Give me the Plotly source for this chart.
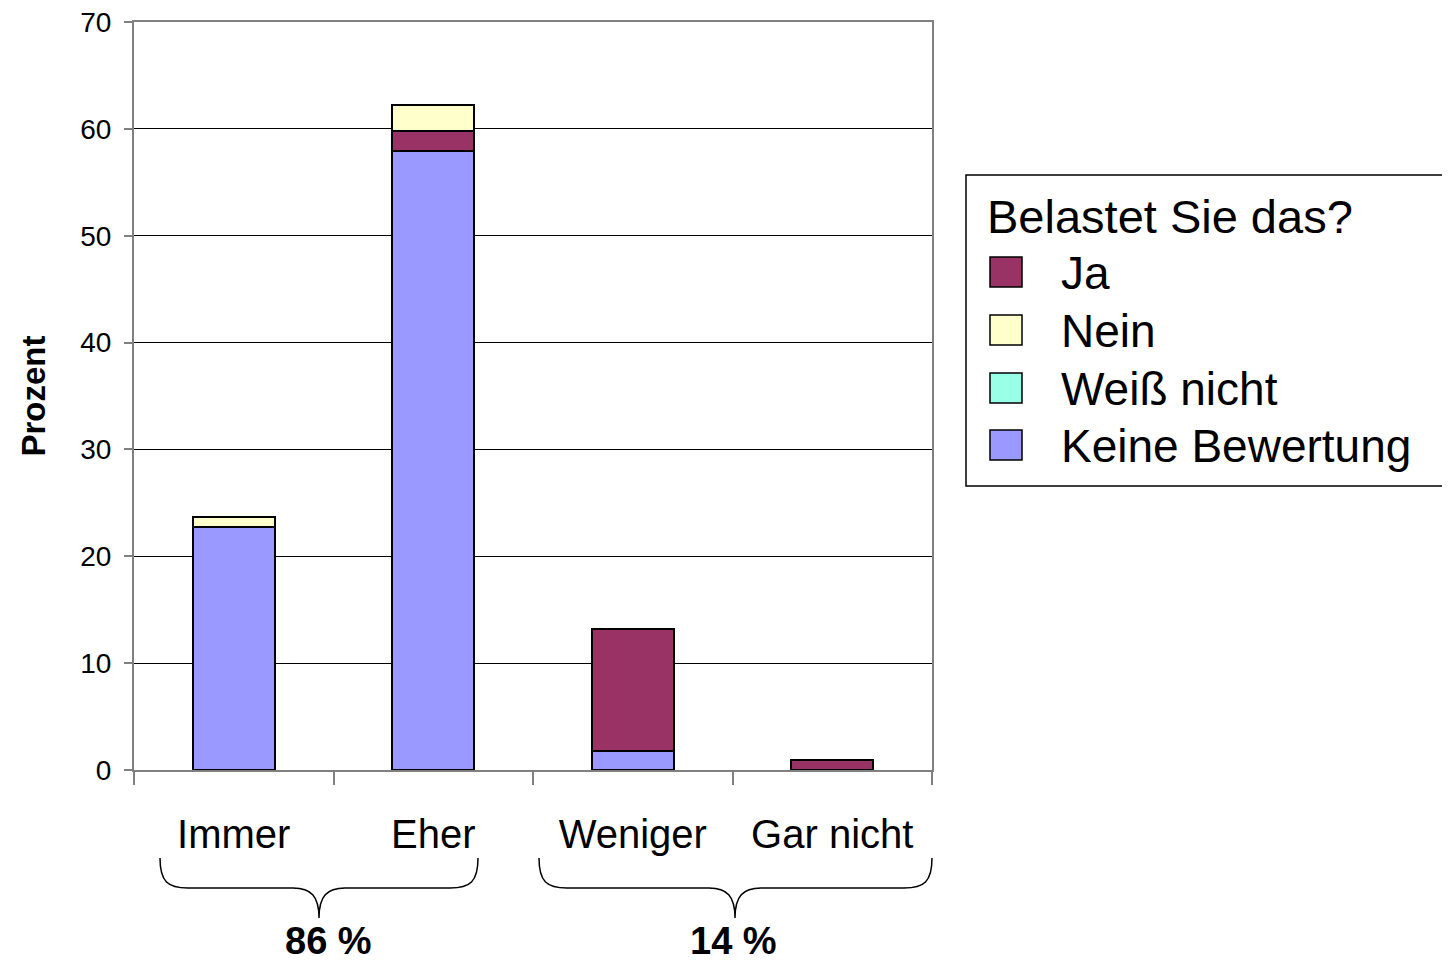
import plotly.graph_objects as go

categories = ["Immer", "Eher", "Weniger", "Gar nicht"]
keine_bewertung = [22.7, 57.9, 1.8, 0.0]
ja = [0.0, 1.9, 11.4, 0.9]
nein = [1.0, 2.4, 0.0, 0.0]
weiss_nicht = [0.0, 0.0, 0.0, 0.0]

series_names = ["Ja", "Nein", "Weiß nicht", "Keine Bewertung"]
series_colors = ["#993366", "#FFFFCC", "#99FFE6", "#9999FF"]
legend_title = "Belastet Sie das?"
group_labels = ["86 %", "14 %"]

FONT = "Liberation Sans, Arial, sans-serif"

OFF = 8  # page body margin
W, H = 1450 - OFF, 965 - OFF
# plot area in page pixels
L, R, T, B = 134, 932, 22, 770


def px(x):
    return (x - L) / (R - L)


def py(y):
    return (B - y) / (B - T)


fig = go.Figure()
stack = [("Keine Bewertung", keine_bewertung), ("Ja", ja), ("Nein", nein), ("Weiß nicht", weiss_nicht)]
for name, vals in stack:
    col = series_colors[series_names.index(name)]
    fig.add_trace(go.Bar(
        x=categories, y=vals, name=name,
        marker=dict(color=col, line=dict(color="black", width=2)),
        width=0.41, showlegend=False,
    ))

shapes = []
annotations = []


def brace(x1, x2, xm, ytop=858, ymid=888, ytip=918):
    pts = [
        f"M {px(x1)},{py(ytop)}",
        f"C {px(x1)},{py(ymid - 6)} {px(x1 + 8)},{py(ymid)} {px(x1 + 28)},{py(ymid)}",
        f"L {px(xm - 26)},{py(ymid)}",
        f"C {px(xm - 8)},{py(ymid)} {px(xm)},{py(ymid + 8)} {px(xm)},{py(ytip)}",
        f"C {px(xm)},{py(ymid + 8)} {px(xm + 8)},{py(ymid)} {px(xm + 26)},{py(ymid)}",
        f"L {px(x2 - 28)},{py(ymid)}",
        f"C {px(x2 - 8)},{py(ymid)} {px(x2)},{py(ymid - 6)} {px(x2)},{py(ytop)}",
    ]
    return dict(type="path", xref="paper", yref="paper", path=" ".join(pts),
                line=dict(color="black", width=1.5))


shapes.append(brace(160, 478, 319))
shapes.append(brace(539, 932, 735))

for xc, lab in zip([328, 733], group_labels):
    annotations.append(dict(x=px(xc), y=py(941), xref="paper", yref="paper", text="<b>" + lab + "</b>",
                            showarrow=False, font=dict(family=FONT, size=38, color="black"),
                            xanchor="center", yanchor="middle"))

# legend (manual)
shapes.append(dict(type="rect", xref="paper", yref="paper", x0=px(966), x1=px(1470), y0=py(486), y1=py(175),
                   line=dict(color="black", width=1.5), fillcolor="white"))
annotations.append(dict(x=px(985), y=py(216), xref="paper", yref="paper", text=legend_title,
                        showarrow=False, font=dict(family=FONT, size=47, color="black"),
                        xanchor="left", yanchor="middle"))
ycent = [272, 330, 388, 445]
for name, col, yc in zip(series_names, series_colors, ycent):
    shapes.append(dict(type="rect", xref="paper", yref="paper", x0=px(990), x1=px(1022),
                       y0=py(yc + 15), y1=py(yc - 15), fillcolor=col, line=dict(color="black", width=1.5)))
    annotations.append(dict(x=px(1059), y=py(yc + 1), xref="paper", yref="paper", text=name,
                            showarrow=False, font=dict(family=FONT, size=46, color="black"),
                            xanchor="left", yanchor="middle"))

fig.update_layout(
    width=W, height=H,
    margin=dict(l=L - OFF, r=W - (R - OFF), t=T - OFF, b=H - (B - OFF), autoexpand=False),
    barmode="stack",
    plot_bgcolor="white", paper_bgcolor="white",
    font=dict(family=FONT, color="black"),
    shapes=shapes, annotations=annotations,
    showlegend=False,
)
fig.update_xaxes(
    showline=True, linecolor="#808080", linewidth=2, mirror=True,
    ticks="outside", tickson="boundaries", ticklen=13, tickcolor="#808080", tickwidth=1.5,
    tickfont=dict(family=FONT, size=40, color="black"), ticklabelstandoff=28,
    showgrid=False,
)
fig.update_yaxes(
    range=[0, 70], dtick=10, showline=True, linecolor="#808080", linewidth=2, mirror=True,
    ticks="outside", ticklen=8, tickcolor="#808080", tickwidth=1.5,
    tickfont=dict(family=FONT, size=28, color="black"), ticklabelstandoff=7,
    ticklabeloverflow="allow",
    showgrid=True, gridcolor="black", gridwidth=1, zeroline=False,
    title=dict(text="<b>Prozent</b>", font=dict(family=FONT, size=33, color="black"), standoff=25),
)

fig.write_html("out.html")
